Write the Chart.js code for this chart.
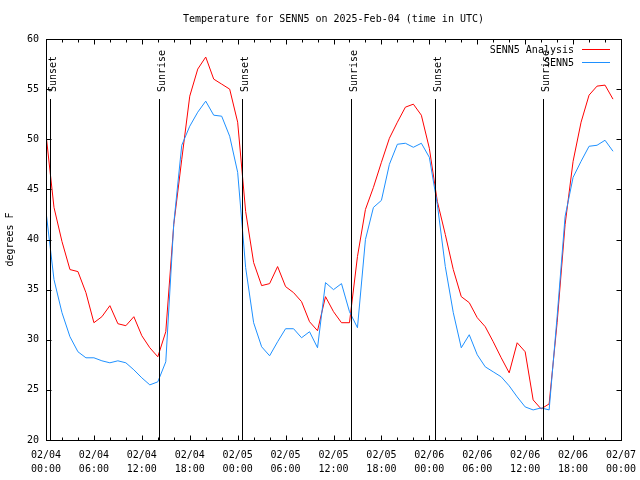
<!DOCTYPE html>
<html><head><meta charset="utf-8">
<script src="https://cdn.jsdelivr.net/npm/chart.js@4"></script>
<style>html,body{margin:0;padding:0;background:#fff}</style>
</head><body>
<canvas id="c" width="640" height="480" style="display:block;width:640px;height:480px"></canvas>
<script>
// Hours since 2025-02-04 00:00 UTC
const hours = [0,1,2,3,4,5,6,7,8,9,10,11,12,13,14,15,16,17,18,19,20,21,22,23,
  24,25,26,27,28,29,30,31,32,33,34,35,36,37,38,39,40,41,42,43,44,45,46,47,
  48,49,50,51,52,53,54,55,56,57,58,59,60,61,62,63,64,65,66,67,68,69,70,71];
const analysisTemps = [50.5,43.2,39.8,37.0,36.8,34.7,31.7,32.3,33.4,31.6,31.4,32.3,
  30.4,29.2,28.3,30.8,41.5,48.0,54.3,57.0,58.2,56.0,55.5,55.0,
  51.7,42.8,37.7,35.4,35.6,37.3,35.3,34.7,33.8,31.8,30.9,34.3,
  32.8,31.7,31.7,38.3,43.0,45.2,47.7,50.1,51.7,53.2,53.5,52.4,
  49.1,43.8,40.5,37.0,34.3,33.7,32.2,31.3,29.8,28.2,26.7,29.7,
  28.8,24.0,23.1,23.6,31.7,41.5,47.8,51.7,54.4,55.3,55.4,54.0];
const observedTemps = [42.8,36.0,32.7,30.3,28.8,28.2,28.2,27.9,27.7,27.9,27.7,27.0,
  26.2,25.5,25.8,27.8,41.6,49.4,51.3,52.7,53.8,52.4,52.3,50.3,
  46.7,37.2,31.7,29.3,28.4,29.8,31.1,31.1,30.2,30.8,29.2,35.7,
  35.0,35.6,32.8,31.2,40.0,43.2,43.9,47.5,49.5,49.6,49.2,49.6,
  48.2,43.5,37.3,32.7,29.2,30.5,28.5,27.3,26.8,26.3,25.4,24.3,
  23.3,23.0,23.2,23.0,32.3,42.3,46.2,47.8,49.3,49.4,49.9,48.8];
const seriesNames = ['SENN5 Analysis','SENN5'];
const seriesColors = ['#ff0000','#1e90ff'];
const sunLabels = ['Sunset','Sunrise','Sunset','Sunrise','Sunset','Sunrise'];
const sunHours = [0.5,14.15,24.6,38.2,48.7,62.2];
const tickHours = [0,6,12,18,24,30,36,42,48,54,60,66,72];
const tickDates = ['02/04','02/04','02/04','02/04','02/05','02/05','02/05','02/05','02/06','02/06','02/06','02/06','02/07'];
const tickTimes = ['00:00','06:00','12:00','18:00','00:00','06:00','12:00','18:00','00:00','06:00','12:00','18:00','00:00'];
const yTicks = [20,25,30,35,40,45,50,55,60];
const titleText = 'Temperature for SENN5 on 2025-Feb-04 (time in UTC)';
const yTitle = 'degrees F';

const FONT = '10px "DejaVu Sans Mono", monospace';

const deco = {
  id: 'deco',
  afterDraw(chart) {
    const {ctx, chartArea: a, scales: {x, y}} = chart;
    ctx.save();
    ctx.strokeStyle = '#000';
    ctx.lineWidth = 1;
    const L = Math.round(a.left) + 0.5, R = Math.round(a.right) + 0.5;
    const T = Math.round(a.top) + 0.5, B = Math.round(a.bottom) + 0.5;
    ctx.beginPath();
    for (let h = 0; h <= 72; h += 2) {
      const px = Math.round(x.getPixelForValue(h)) + 0.5;
      const len = (h % 6 === 0) ? 5 : 3;
      ctx.moveTo(px, B); ctx.lineTo(px, B - len);
      ctx.moveTo(px, T); ctx.lineTo(px, T + len);
    }
    yTicks.forEach(v => {
      const py = Math.round(y.getPixelForValue(v)) + 0.5;
      ctx.moveTo(L, py); ctx.lineTo(L + 5, py);
      ctx.moveTo(R, py); ctx.lineTo(R - 5, py);
    });
    sunHours.forEach(h => {
      const px = Math.round(x.getPixelForValue(h)) + 0.5;
      ctx.moveTo(px, B); ctx.lineTo(px, 99);
    });
    ctx.stroke();
    ctx.strokeRect(L, T, R - L, B - T);

    ctx.fillStyle = '#000';
    ctx.font = FONT;
    sunHours.forEach((h, i) => {
      const px = Math.round(x.getPixelForValue(h)) + 0.5;
      ctx.save();
      ctx.translate(px + 5, 92);
      ctx.rotate(-Math.PI / 2);
      ctx.textAlign = 'left';
      ctx.textBaseline = 'alphabetic';
      ctx.fillText(sunLabels[i], 0, 0);
      ctx.restore();
    });
    ctx.textAlign = 'center';
    ctx.textBaseline = 'middle';
    ctx.fillText(titleText, (a.left + a.right) / 2, 19);
    ctx.textAlign = 'right';
    const rows = [50, 63];
    const lineY = [49.5, 62.5];
    seriesNames.forEach((n, i) => {
      ctx.fillStyle = '#000';
      ctx.fillText(n, 574, rows[i]);
      ctx.strokeStyle = seriesColors[i];
      ctx.beginPath();
      ctx.moveTo(582, lineY[i]); ctx.lineTo(610, lineY[i]);
      ctx.stroke();
    });
    ctx.restore();
  }
};

new Chart(document.getElementById('c'), {
  type: 'line',
  data: {
    datasets: [
      { label: seriesNames[0], data: hours.map((h, i) => ({x: h, y: analysisTemps[i]})),
        borderColor: seriesColors[0], borderWidth: 1, pointRadius: 0, tension: 0, fill: false, order: 2 },
      { label: seriesNames[1], data: hours.map((h, i) => ({x: h, y: observedTemps[i]})),
        borderColor: seriesColors[1], borderWidth: 1, pointRadius: 0, tension: 0, fill: false, order: 1 }
    ]
  },
  options: {
    responsive: false,
    animation: false,
    devicePixelRatio: 1,
    layout: { padding: { top: 39, right: 19, left: 0, bottom: 0 } },
    plugins: { legend: { display: false }, tooltip: { enabled: false }, title: { display: false } },
    scales: {
      x: {
        type: 'linear', min: 0, max: 72, offset: false,
        afterFit: s => { s.height = 40; s.paddingLeft = 0; s.paddingRight = 0; },
        afterBuildTicks: s => { s.ticks = tickHours.map(v => ({value: v})); },
        grid: { display: false, drawTicks: false },
        border: { display: false },
        ticks: {
          autoSkip: false, maxRotation: 0, minRotation: 0, padding: 8,
          color: '#000', font: { family: '"DejaVu Sans Mono", monospace', size: 10, lineHeight: 1.4 },
          callback: (v) => { const i = tickHours.indexOf(v); return i >= 0 ? [tickDates[i], tickTimes[i]] : ''; }
        }
      },
      y: {
        min: 20, max: 60,
        afterFit: s => { s.width = 46; s.paddingTop = 0; s.paddingBottom = 0; },
        afterBuildTicks: s => { s.ticks = yTicks.map(v => ({value: v})); },
        grid: { display: false, drawTicks: false },
        border: { display: false },
        title: { display: true, text: yTitle, color: '#000', padding: { top: 4, bottom: 0 },
          font: { family: '"DejaVu Sans Mono", monospace', size: 10, lineHeight: 1.2 } },
        ticks: { padding: 7, color: '#000', font: { family: '"DejaVu Sans Mono", monospace', size: 10 } }
      }
    }
  },
  plugins: [deco]
});
</script>
</body></html>
